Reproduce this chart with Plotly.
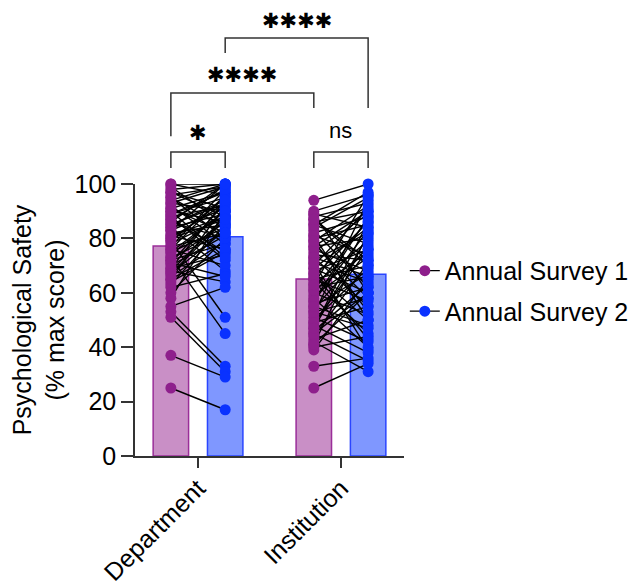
import plotly.graph_objects as go

groups = ["Department", "Institution"]
series_names = ["Annual Survey 1", "Annual Survey 2"]

# bar heights (means)
survey1_means = [77.2, 65.1]
survey2_means = [80.6, 66.8]

# paired individual scores, Department
dept_s1 = [100, 100, 98, 97, 96, 95, 94, 93, 92, 91, 90, 89, 88, 88, 87, 86, 85, 84, 84, 83,
           82, 81, 80, 80, 79, 78, 77, 76, 76, 75, 74, 73, 72, 72, 71, 70, 69, 68, 68, 67,
           66, 65, 64, 63, 62, 60, 58, 55, 53, 51, 37, 25,
           99, 97, 95, 93, 91, 89, 87, 85, 83, 81, 79, 77, 75, 73, 71, 69, 67, 65, 90, 86]
dept_s2 = [100, 96, 100, 88, 99, 84, 100, 90, 78, 97, 86, 95, 72, 92, 98, 80, 94, 89, 68, 91,
           85, 76, 93, 87, 51, 88, 82, 96, 70, 84, 90, 45, 86, 78, 93, 81, 74, 88, 64, 83,
           79, 92, 75, 85, 67, 80, 90, 62, 33, 31, 29, 17,
           85, 91, 80, 99, 82, 97, 75, 93, 100, 88, 95, 98, 90, 82, 66, 94, 87, 76, 73, 100]

# paired individual scores, Institution
inst_s1 = [94, 90, 89, 88, 87, 86, 85, 84, 83, 82, 81, 80, 79, 78, 77, 76, 75, 74, 73, 72,
           71, 70, 69, 68, 67, 66, 65, 64, 63, 62, 61, 60, 59, 58, 57, 56, 55, 54, 53, 52,
           51, 50, 49, 48, 47, 46, 45, 44, 43, 42, 41, 40, 39, 33, 25,
           89, 85, 81, 77, 73, 69, 65, 61, 57, 53, 49, 45, 41, 87, 63, 71, 55, 79, 47, 67]
inst_s2 = [100, 96, 84, 93, 70, 90, 78, 95, 62, 88, 74, 85, 92, 58, 80, 68, 89, 72, 55, 82,
           64, 91, 60, 76, 50, 86, 70, 45, 79, 66, 87, 52, 73, 40, 83, 62, 48, 77, 58, 94,
           42, 69, 55, 38, 81, 63, 35, 71, 50, 31, 60, 44, 65, 36, 34,
           60, 97, 50, 90, 66, 84, 57, 75, 88, 47, 76, 60, 82, 72, 96, 39, 67, 53, 86, 43]

# significance labels
sig_labels = ["✱", "ns", "✱✱✱✱", "✱✱✱✱"]

PURPLE = "#8E1F8C"
BLUE = "#0A32FF"
PURPLE_FILL = "#C98FC6"
BLUE_FILL = "#7F97FF"
PURPLE_EDGE = "#9A2E99"
BLUE_EDGE = "#2A45FF"
FONT = "Liberation Sans, Arial, sans-serif"
STAR_FONT = "DejaVu Sans, Liberation Sans, sans-serif"

OFF = 0.19
BW = 0.248
XMIN, XMAX = -0.441, 1.441

fig = go.Figure()

fig.add_trace(go.Bar(x=[0 - OFF, 1 - OFF], y=survey1_means, width=BW,
                     marker=dict(color=PURPLE_FILL, line=dict(color=PURPLE_EDGE, width=1.5)),
                     showlegend=False, hoverinfo="skip"))
fig.add_trace(go.Bar(x=[0 + OFF, 1 + OFF], y=survey2_means, width=BW,
                     marker=dict(color=BLUE_FILL, line=dict(color=BLUE_EDGE, width=1.5)),
                     showlegend=False, hoverinfo="skip"))

# connecting lines
lx, ly = [], []
for gi, (a, b) in enumerate([(dept_s1, dept_s2), (inst_s1, inst_s2)]):
    for v1, v2 in zip(a, b):
        lx += [gi - OFF, gi + OFF, None]
        ly += [v1, v2, None]
fig.add_trace(go.Scatter(x=lx, y=ly, mode="lines", line=dict(color="black", width=1.4),
                         showlegend=False, hoverinfo="skip", cliponaxis=False))

for gi, vals in enumerate([dept_s1, inst_s1]):
    fig.add_trace(go.Scatter(x=[gi - OFF] * len(vals), y=vals, mode="markers",
                             marker=dict(color=PURPLE, size=11), showlegend=False,
                             cliponaxis=False))
for gi, vals in enumerate([dept_s2, inst_s2]):
    fig.add_trace(go.Scatter(x=[gi + OFF] * len(vals), y=vals, mode="markers",
                             marker=dict(color=BLUE, size=11), showlegend=False,
                             cliponaxis=False))

# legend entries
for i, (name, col) in enumerate(zip(series_names, [PURPLE, BLUE])):
    fig.add_trace(go.Scatter(x=[None], y=[None], mode="lines+markers", name=name,
                             legendgroup=f"g{i}",
                             line=dict(color="black", width=1.2),
                             marker=dict(color=col, size=11)))

def px_(x):
    return (x - XMIN) / (XMAX - XMIN)

def py_(y):
    return y / 100.0

# brackets: (x left, x right, top, left leg bottom, right leg bottom, label, label y)
brackets = [
    (0 - OFF, 0 + OFF, 111.8, 105.9, 105.9, sig_labels[0], 118.8),
    (1 - OFF, 1 + OFF, 111.8, 105.9, 105.9, sig_labels[1], 119.8),
    (0 - OFF, 1 - OFF, 133.5, 117.6, 127.9, sig_labels[2], 140.2),
    (0 + OFF, 1 + OFF, 153.7, 148.2, 127.9, sig_labels[3], 160.0),
]
for xl, xr, top, bl, br, lab, ty in brackets:
    fig.add_shape(type="path", xref="paper", yref="paper",
                  path=f"M {px_(xl)} {py_(bl)} L {px_(xl)} {py_(top)} L {px_(xr)} {py_(top)} L {px_(xr)} {py_(br)}",
                  line=dict(color="#333333", width=1.5))
    if lab == "ns":
        fnt = dict(family=FONT, size=22, color="black")
    else:
        fnt = dict(family=STAR_FONT, size=21, color="black")
    fig.add_annotation(x=px_((xl + xr) / 2), y=py_(ty), xref="paper", yref="paper",
                       text=lab, showarrow=False,
                       font=fnt, xanchor="center", yanchor="middle")

fig.update_layout(
    width=638, height=583,
    margin=dict(l=127, r=238, t=176, b=135),
    plot_bgcolor="white", paper_bgcolor="white",
    barmode="overlay",
    font=dict(family=FONT, color="black"),
    legend=dict(x=1.003, y=0.607, xanchor="left", yanchor="middle",
                font=dict(family=FONT, size=25, color="black"),
                bgcolor="rgba(0,0,0,0)", itemwidth=30, tracegroupgap=5),
    xaxis=dict(range=[XMIN, XMAX], tickvals=[0, 1], ticktext=groups, tickangle=-45,
               ticks="outside", ticklen=10, tickwidth=1.5, tickcolor="#333333",
               showline=True, linecolor="#333333", linewidth=1.5, showgrid=False,
               zeroline=False, automargin=False, ticklabelstandoff=-4,
               tickfont=dict(family=FONT, size=25, color="black")),
    yaxis=dict(range=[0, 100], dtick=20, ticks="outside", ticklen=12, tickwidth=1.5,
               tickcolor="#333333", showline=True, linecolor="#333333", linewidth=1.5,
               showgrid=False, zeroline=False, automargin=False,
               tickfont=dict(family=FONT, size=25, color="black"),
               title=dict(text="Psychological Safety<br>(% max score)",
                          font=dict(family=FONT, size=25, color="black"), standoff=8)),
)

fig.write_html("out.html")
